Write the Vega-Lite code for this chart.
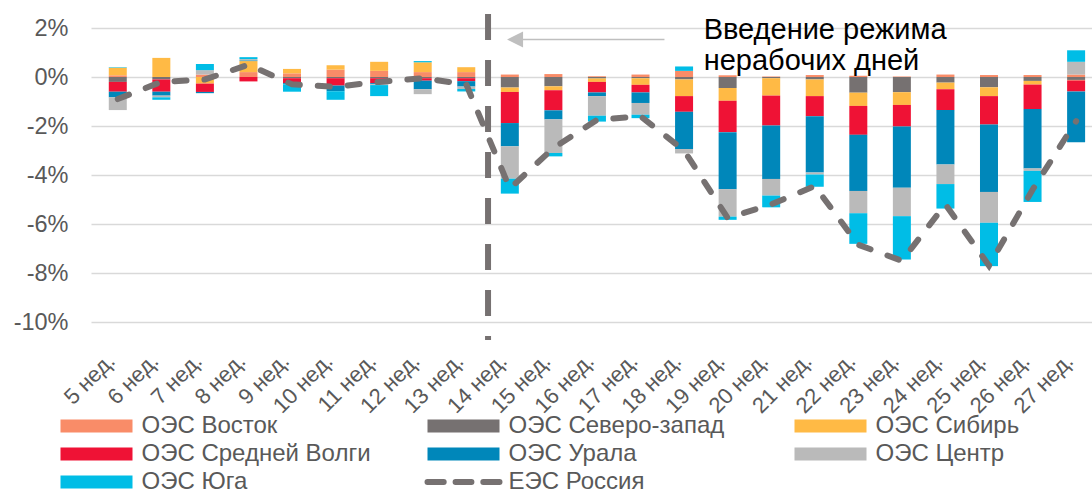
{
  "$schema": "https://vega.github.io/schema/vega-lite/v6.json",
  "width": 1001,
  "height": 294,
  "autosize": {"type": "none"},
  "padding": {"left": 91, "top": 28, "right": 0, "bottom": 173},
  "background": "white",
  "config": {"view": {"stroke": null}, "font": "Liberation Sans"},
  "datasets": {
    "bars": [
      {"w":5,"r":"ОЭС Восток","v":0.07},{"w":5,"r":"ОЭС Северо-запад","v":-0.2},{"w":5,"r":"ОЭС Сибирь","v":0.31},{"w":5,"r":"ОЭС Средней Волги","v":-0.4},{"w":5,"r":"ОЭС Урала","v":-0.23},{"w":5,"r":"ОЭС Центр","v":-0.52},{"w":5,"r":"ОЭС Юга","v":0.02},
      {"w":6,"r":"ОЭС Восток","v":0.0},{"w":6,"r":"ОЭС Северо-запад","v":-0.1},{"w":6,"r":"ОЭС Сибирь","v":0.78},{"w":6,"r":"ОЭС Средней Волги","v":-0.5},{"w":6,"r":"ОЭС Урала","v":-0.16},{"w":6,"r":"ОЭС Центр","v":-0.07},{"w":6,"r":"ОЭС Юга","v":-0.1},
      {"w":7,"r":"ОЭС Восток","v":0.1},{"w":7,"r":"ОЭС Северо-запад","v":0.0},{"w":7,"r":"ОЭС Сибирь","v":-0.27},{"w":7,"r":"ОЭС Средней Волги","v":-0.34},{"w":7,"r":"ОЭС Урала","v":-0.05},{"w":7,"r":"ОЭС Центр","v":0.18},{"w":7,"r":"ОЭС Юга","v":0.25},
      {"w":8,"r":"ОЭС Восток","v":0.2},{"w":8,"r":"ОЭС Северо-запад","v":0.0},{"w":8,"r":"ОЭС Сибирь","v":0.45},{"w":8,"r":"ОЭС Средней Волги","v":-0.18},{"w":8,"r":"ОЭС Урала","v":0.03},{"w":8,"r":"ОЭС Центр","v":0.05},{"w":8,"r":"ОЭС Юга","v":0.08},
      {"w":9,"r":"ОЭС Восток","v":0.15},{"w":9,"r":"ОЭС Северо-запад","v":-0.05},{"w":9,"r":"ОЭС Сибирь","v":0.18},{"w":9,"r":"ОЭС Средней Волги","v":-0.2},{"w":9,"r":"ОЭС Урала","v":-0.05},{"w":9,"r":"ОЭС Центр","v":0.0},{"w":9,"r":"ОЭС Юга","v":-0.3},
      {"w":10,"r":"ОЭС Восток","v":0.3},{"w":10,"r":"ОЭС Северо-запад","v":-0.05},{"w":10,"r":"ОЭС Сибирь","v":0.18},{"w":10,"r":"ОЭС Средней Волги","v":-0.3},{"w":10,"r":"ОЭС Урала","v":-0.23},{"w":10,"r":"ОЭС Центр","v":0.0},{"w":10,"r":"ОЭС Юга","v":-0.35},
      {"w":11,"r":"ОЭС Восток","v":0.25},{"w":11,"r":"ОЭС Северо-запад","v":-0.05},{"w":11,"r":"ОЭС Сибирь","v":0.37},{"w":11,"r":"ОЭС Средней Волги","v":-0.2},{"w":11,"r":"ОЭС Урала","v":-0.05},{"w":11,"r":"ОЭС Центр","v":-0.03},{"w":11,"r":"ОЭС Юга","v":-0.45},
      {"w":12,"r":"ОЭС Восток","v":0.2},{"w":12,"r":"ОЭС Северо-запад","v":-0.05},{"w":12,"r":"ОЭС Сибирь","v":0.4},{"w":12,"r":"ОЭС Средней Волги","v":-0.1},{"w":12,"r":"ОЭС Урала","v":-0.35},{"w":12,"r":"ОЭС Центр","v":-0.2},{"w":12,"r":"ОЭС Юга","v":0.05},
      {"w":13,"r":"ОЭС Восток","v":0.2},{"w":13,"r":"ОЭС Северо-запад","v":-0.05},{"w":13,"r":"ОЭС Сибирь","v":0.2},{"w":13,"r":"ОЭС Средней Волги","v":-0.12},{"w":13,"r":"ОЭС Урала","v":-0.22},{"w":13,"r":"ОЭС Центр","v":-0.1},{"w":13,"r":"ОЭС Юга","v":-0.1},
      {"w":14,"r":"ОЭС Восток","v":0.1},{"w":14,"r":"ОЭС Северо-запад","v":-0.43},{"w":14,"r":"ОЭС Сибирь","v":-0.18},{"w":14,"r":"ОЭС Средней Волги","v":-1.27},{"w":14,"r":"ОЭС Урала","v":-0.95},{"w":14,"r":"ОЭС Центр","v":-1.32},{"w":14,"r":"ОЭС Юга","v":-0.61},
      {"w":15,"r":"ОЭС Восток","v":0.12},{"w":15,"r":"ОЭС Северо-запад","v":-0.38},{"w":15,"r":"ОЭС Сибирь","v":-0.16},{"w":15,"r":"ОЭС Средней Волги","v":-0.82},{"w":15,"r":"ОЭС Урала","v":-0.37},{"w":15,"r":"ОЭС Центр","v":-1.37},{"w":15,"r":"ОЭС Юга","v":-0.14},
      {"w":16,"r":"ОЭС Восток","v":0.03},{"w":16,"r":"ОЭС Северо-запад","v":-0.06},{"w":16,"r":"ОЭС Сибирь","v":-0.14},{"w":16,"r":"ОЭС Средней Волги","v":-0.43},{"w":16,"r":"ОЭС Урала","v":-0.15},{"w":16,"r":"ОЭС Центр","v":-0.8},{"w":16,"r":"ОЭС Юга","v":-0.24},
      {"w":17,"r":"ОЭС Восток","v":0.1},{"w":17,"r":"ОЭС Северо-запад","v":-0.05},{"w":17,"r":"ОЭС Сибирь","v":-0.27},{"w":17,"r":"ОЭС Средней Волги","v":-0.31},{"w":17,"r":"ОЭС Урала","v":-0.43},{"w":17,"r":"ОЭС Центр","v":-0.48},{"w":17,"r":"ОЭС Юга","v":-0.14},
      {"w":18,"r":"ОЭС Восток","v":0.25},{"w":18,"r":"ОЭС Северо-запад","v":-0.1},{"w":18,"r":"ОЭС Сибирь","v":-0.68},{"w":18,"r":"ОЭС Средней Волги","v":-0.64},{"w":18,"r":"ОЭС Урала","v":-1.52},{"w":18,"r":"ОЭС Центр","v":-0.18},{"w":18,"r":"ОЭС Юга","v":0.18},
      {"w":19,"r":"ОЭС Восток","v":0.07},{"w":19,"r":"ОЭС Северо-запад","v":-0.45},{"w":19,"r":"ОЭС Сибирь","v":-0.52},{"w":19,"r":"ОЭС Средней Волги","v":-1.28},{"w":19,"r":"ОЭС Урала","v":-2.33},{"w":19,"r":"ОЭС Центр","v":-1.12},{"w":19,"r":"ОЭС Юга","v":-0.13},
      {"w":20,"r":"ОЭС Восток","v":0.02},{"w":20,"r":"ОЭС Северо-запад","v":-0.05},{"w":20,"r":"ОЭС Сибирь","v":-0.71},{"w":20,"r":"ОЭС Средней Волги","v":-1.22},{"w":20,"r":"ОЭС Урала","v":-2.18},{"w":20,"r":"ОЭС Центр","v":-0.68},{"w":20,"r":"ОЭС Юга","v":-0.48},
      {"w":21,"r":"ОЭС Восток","v":0.08},{"w":21,"r":"ОЭС Северо-запад","v":-0.1},{"w":21,"r":"ОЭС Сибирь","v":-0.68},{"w":21,"r":"ОЭС Средней Волги","v":-0.82},{"w":21,"r":"ОЭС Урала","v":-2.3},{"w":21,"r":"ОЭС Центр","v":-0.08},{"w":21,"r":"ОЭС Юга","v":-0.5},
      {"w":22,"r":"ОЭС Восток","v":0.05},{"w":22,"r":"ОЭС Северо-запад","v":-0.64},{"w":22,"r":"ОЭС Сибирь","v":-0.54},{"w":22,"r":"ОЭС Средней Волги","v":-1.18},{"w":22,"r":"ОЭС Урала","v":-2.29},{"w":22,"r":"ОЭС Центр","v":-0.91},{"w":22,"r":"ОЭС Юга","v":-1.25},
      {"w":23,"r":"ОЭС Восток","v":0.02},{"w":23,"r":"ОЭС Северо-запад","v":-0.62},{"w":23,"r":"ОЭС Сибирь","v":-0.52},{"w":23,"r":"ОЭС Средней Волги","v":-0.88},{"w":23,"r":"ОЭС Урала","v":-2.5},{"w":23,"r":"ОЭС Центр","v":-1.16},{"w":23,"r":"ОЭС Юга","v":-1.77},
      {"w":24,"r":"ОЭС Восток","v":0.1},{"w":24,"r":"ОЭС Северо-запад","v":-0.23},{"w":24,"r":"ОЭС Сибирь","v":-0.27},{"w":24,"r":"ОЭС Средней Волги","v":-0.85},{"w":24,"r":"ОЭС Урала","v":-2.22},{"w":24,"r":"ОЭС Центр","v":-0.8},{"w":24,"r":"ОЭС Юга","v":-1.0},
      {"w":25,"r":"ОЭС Восток","v":0.08},{"w":25,"r":"ОЭС Северо-запад","v":-0.42},{"w":25,"r":"ОЭС Сибирь","v":-0.36},{"w":25,"r":"ОЭС Средней Волги","v":-1.16},{"w":25,"r":"ОЭС Урала","v":-2.75},{"w":25,"r":"ОЭС Центр","v":-1.26},{"w":25,"r":"ОЭС Юга","v":-1.77},
      {"w":26,"r":"ОЭС Восток","v":0.08},{"w":26,"r":"ОЭС Северо-запад","v":-0.16},{"w":26,"r":"ОЭС Сибирь","v":-0.15},{"w":26,"r":"ОЭС Средней Волги","v":-1.0},{"w":26,"r":"ОЭС Урала","v":-2.42},{"w":26,"r":"ОЭС Центр","v":-0.1},{"w":26,"r":"ОЭС Юга","v":-1.27},
      {"w":27,"r":"ОЭС Восток","v":0.1},{"w":27,"r":"ОЭС Северо-запад","v":-0.12},{"w":27,"r":"ОЭС Сибирь","v":-0.02},{"w":27,"r":"ОЭС Средней Волги","v":-0.45},{"w":27,"r":"ОЭС Урала","v":-2.07},{"w":27,"r":"ОЭС Центр","v":0.52},{"w":27,"r":"ОЭС Юга","v":0.47}
    ],
    "ees": [
      {"w":5,"v":-0.9},{"w":6,"v":-0.2},{"w":7,"v":-0.1},{"w":8,"v":0.5},{"w":9,"v":-0.3},{"w":10,"v":-0.4},{"w":11,"v":-0.2},{"w":12,"v":-0.05},{"w":13,"v":-0.3},
      {"w":14,"v":-4.55},{"w":15,"v":-2.9},{"w":16,"v":-1.75},{"w":17,"v":-1.6},{"w":18,"v":-3.0},{"w":19,"v":-5.75},{"w":20,"v":-5.2},{"w":21,"v":-4.45},{"w":22,"v":-6.85},{"w":23,"v":-7.5},{"w":24,"v":-5.2},{"w":25,"v":-7.7},{"w":26,"v":-4.6},{"w":27,"v":-1.8}
    ]
  },
  "layer": [
    {
      "data": {"name": "bars"},
      "mark": {"type": "bar", "size": 18},
      "encoding": {
        "x": {
          "field": "w", "type": "quantitative",
          "scale": {"domain": [4.5, 27.25], "nice": false, "zero": false},
          "axis": {
            "values": [5,6,7,8,9,10,11,12,13,14,15,16,17,18,19,20,21,22,23,24,25,26,27],
            "labelExpr": "datum.value + ' нед.'",
            "labelAngle": -45, "labelAlign": "right", "labelBaseline": "middle",
            "grid": false, "domain": false, "ticks": false, "labelOffset": -7,
            "labelFontSize": 22, "labelColor": "#595959", "labelPadding": 35,
            "labelFlush": false, "labelOverlap": false, "title": null
          }
        },
        "y": {
          "field": "v", "type": "quantitative", "stack": "zero",
          "scale": {"domain": [-10, 2], "nice": false},
          "axis": {
            "values": [-10,-8,-6,-4,-2,0,2],
            "labelExpr": "datum.value + '%'",
            "domain": false, "ticks": false, "gridColor": "#D9D9D9", "gridWidth": 1.5,
            "labelFontSize": 23.5, "labelColor": "#595959", "labelPadding": 23, "title": null
          }
        },
        "color": {
          "field": "r", "type": "nominal",
          "scale": {
            "domain": ["ОЭС Восток","ОЭС Северо-запад","ОЭС Сибирь","ОЭС Средней Волги","ОЭС Урала","ОЭС Центр","ОЭС Юга","ЕЭС Россия"],
            "range": ["#F98C68","#767171","#FFBA45","#EF1235","#0087BA","#BABABA","#00BDE6","#767171"]
          },
          "legend": {
            "orient": "none", "legendX": -31, "legendY": 386, "direction": "horizontal",
            "columns": 3, "gridAlign": "all", "columnPadding": 44, "rowPadding": 4,
            "labelFontSize": 24, "labelColor": "#595959", "labelOffset": 33, "labelLimit": 400,
            "symbolOffset": 24.5,
            "symbolSize": 5184, "symbolType": "M-1,-0.18H1V0.18H-1Z", "title": null,
            "encode": {
              "symbols": {
                "update": {
                  "shape": {"signal": "datum.value === 'ЕЭС Россия' ? 'M-1,0H-0.55M-0.22,0H0.22M0.55,0H1' : 'M-1,-0.18H1V0.18H-1Z'"},
                  "fill": {"signal": "datum.value === 'ЕЭС Россия' ? 'transparent' : scale('color', datum.value)"},
                  "stroke": {"signal": "datum.value === 'ЕЭС Россия' ? '#767171' : 'transparent'"},
                  "strokeWidth": {"signal": "datum.value === 'ЕЭС Россия' ? 6 : 0"},
                  "strokeCap": {"value": "round"},
                  "strokeDash": {"value": [1, 0]},
                  "opacity": {"value": 1},
                  "size": {"value": 5184}
                }
              }
            }
          }
        },
        "order": {"field": "r", "sort": "ascending"}
      }
    },
    {
      "data": {"name": "ees"},
      "mark": {"type": "line", "strokeWidth": 6, "strokeDash": [12, 18], "strokeCap": "round"},
      "encoding": {
        "x": {"field": "w", "type": "quantitative"},
        "y": {"field": "v", "type": "quantitative"},
        "color": {"datum": "ЕЭС Россия", "type": "nominal"}
      }
    },
    {
      "data": {"values": [{}]},
      "mark": {"type": "rule", "strokeWidth": 6, "color": "#767171", "strokeDash": [26, 20]},
      "encoding": {"x": {"datum": 13.5}, "y": {"datum": 2.57}, "y2": {"datum": -10.73}}
    },
    {
      "data": {"values": [{}]},
      "mark": {"type": "rule", "strokeWidth": 1.5, "color": "#BFBFBF"},
      "encoding": {"x": {"datum": 14.3}, "x2": {"datum": 17.55}, "y": {"datum": 1.53}}
    },
    {
      "data": {"values": [{}]},
      "mark": {"type": "point", "shape": "M-1,0L1,-1L1,1Z", "size": 256, "filled": true, "color": "#BFBFBF", "opacity": 1, "strokeWidth": 0},
      "encoding": {"x": {"datum": 14.12}, "y": {"datum": 1.53}}
    },
    {
      "data": {"values": [{}]},
      "mark": {"type": "text", "align": "left", "baseline": "alphabetic", "fontSize": 29, "lineHeight": 31, "color": "#000000", "font": "Liberation Sans"},
      "encoding": {"x": {"datum": 18.45}, "y": {"datum": 1.55}, "text": {"value": ["Введение режима", "нерабочих дней"]}}
    }
  ]
}
